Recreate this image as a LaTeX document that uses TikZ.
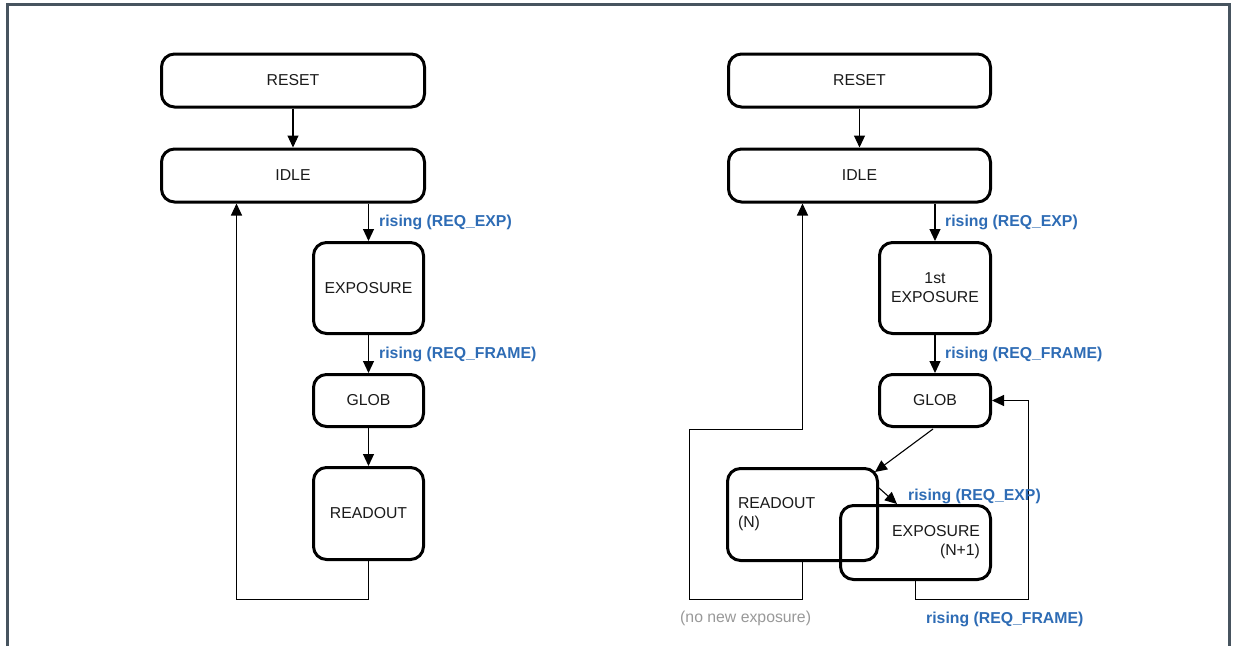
\documentclass[tikz,border=0pt]{standalone}
\usepackage{fontspec}
\setmainfont{Liberation Sans}
\usetikzlibrary{arrows.meta,calc}
\definecolor{frame}{HTML}{47545F}
\definecolor{lblue}{HTML}{2E6CB5}
\definecolor{txt}{HTML}{1A1A1A}
\definecolor{gtxt}{HTML}{999999}
\begin{document}
\begin{tikzpicture}[x=1pt,y=-1pt,
  state/.style={draw, line width=3pt, rounded corners=13pt, inner sep=0pt,
    font=\fontsize{15.8}{19}\selectfont, text=txt},
  arr/.style={line width=1.1pt, -{Triangle[length=12pt,width=11pt]}},
  lbl/.style={font=\fontsize{15.8}{19}\selectfont\bfseries, text=lblue, anchor=west, inner sep=0pt},
  glbl/.style={font=\fontsize{15.8}{19}\selectfont, text=gtxt, anchor=west, inner sep=0pt},
]
\useasboundingbox[fill=white] (0,0) rectangle (1237,646);
\draw[frame, line width=3pt] (7.5,646) -- (7.5,4.5) -- (1229.5,4.5) -- (1229.5,646);

% ---------------- left diagram ----------------
\node[state, minimum width=263pt, minimum height=53pt] (rst1) at (293,80.5) {RESET};
\node[state, minimum width=263pt, minimum height=53pt] (idle1) at (293,175.5) {IDLE};
\node[state, minimum width=110pt, minimum height=91pt] (exp1) at (368.5,288) {EXPOSURE};
\node[state, minimum width=110pt, minimum height=52pt] (glob1) at (368.5,400.5) {GLOB};
\node[state, minimum width=110pt, minimum height=92pt] (ro1) at (368.5,513.5) {READOUT};

\draw[arr] (rst1) -- (idle1);
\draw[arr] (idle1.south -| exp1.north) -- (exp1.north);
\draw[arr] (exp1) -- (glob1);
\draw[arr] (glob1) -- (ro1);
\coordinate (c1) at (236.5,599.5);
\draw[arr] (ro1.south) |- (c1) -- (c1 |- idle1.south);

\node[lbl] (l1) at (379,222) {rising (REQ\_EXP)};
\node[lbl] (l2) at (379,354) {rising (REQ\_FRAME)};

% ---------------- right diagram ----------------
\node[state, minimum width=262pt, minimum height=53pt] (rst2) at (859.5,80.5) {RESET};
\node[state, minimum width=262pt, minimum height=53pt] (idle2) at (859.5,175.5) {IDLE};
\node[state, minimum width=111pt, minimum height=91pt, align=center] (exp2a) at (935,288) {1st\\EXPOSURE};
\node[state, minimum width=111pt, minimum height=52pt] (glob2) at (935,400.5) {GLOB};
\node[state, minimum width=150pt, minimum height=92pt, text width=129pt, align=left] (ro2) at (802.5,514.5) {READOUT\\(N)};
\node[state, minimum width=150pt, minimum height=74pt, text width=129pt, align=right] (exp2) at (915.5,542.5) {EXPOSURE\\(N+1)};

\draw[arr] (rst2) -- (idle2);
\draw[arr] (idle2.south -| exp2a.north) -- (exp2a.north);
\draw[arr] (exp2a) -- (glob2);
\coordinate (g2) at ($(glob2.south)+(-2,1)$);
\coordinate (r2) at ($(ro2.north east)+(-4,5)$);
\draw[arr] (g2) -- (r2);
\coordinate (s1) at (879,488);
\coordinate (t1) at (897,504);
\draw[arr] (s1) -- (t1);
\coordinate (c3) at (1028.5,599.5);
\draw[arr] (exp2.south) |- (c3) |- (glob2.east);
\coordinate (c4) at (689.5,599.5);
\coordinate (c5) at (802.5,429.5);
\draw[arr] (ro2.south) |- (c4) |- (c5) -- (c5 |- idle2.south);

\node[lbl] (l3) at (945,222) {rising (REQ\_EXP)};
\node[lbl] (l4) at (945,354) {rising (REQ\_FRAME)};
\node[lbl] (l5) at (908,496) {rising (REQ\_EXP)};
\node[lbl] (l6) at (926,619) {rising (REQ\_FRAME)};
\node[glbl] (l7) at (680,618) {(no new exposure)};
\end{tikzpicture}
\end{document}
